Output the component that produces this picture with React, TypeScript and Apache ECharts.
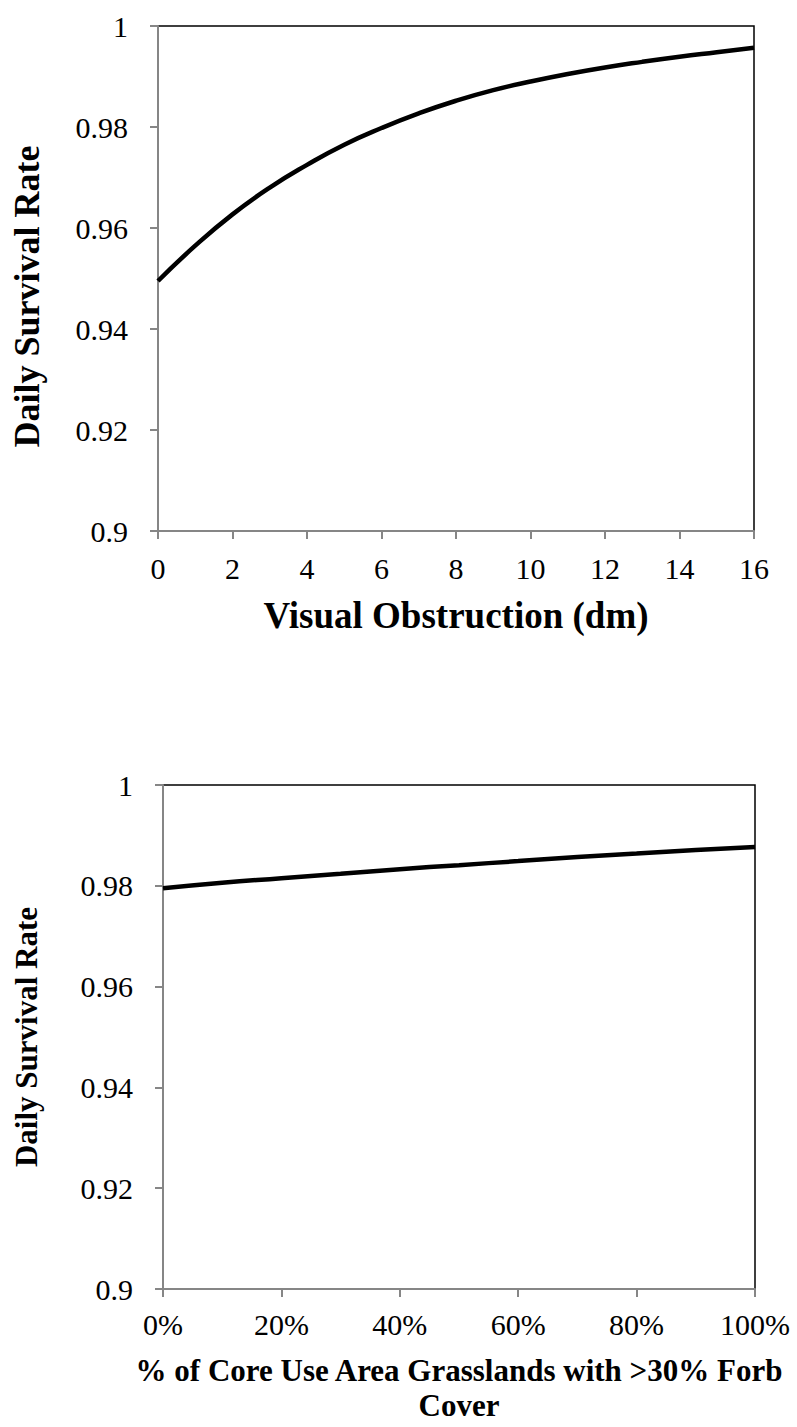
import React, { useEffect, useRef } from "react";
import * as echarts from "echarts";

// Top panel: visual obstruction (dm) vs daily survival rate
const obstructionX = [0, 1, 2, 3, 4, 5, 6, 7, 8, 9, 10, 11, 12, 13, 14, 15, 16];
const obstructionDSR = [
  0.9495, 0.9565, 0.9627, 0.968, 0.9725, 0.9765, 0.9798, 0.9827, 0.9852,
  0.9873, 0.989, 0.9905, 0.9918, 0.9929, 0.9939, 0.9948, 0.9957,
];

// Bottom panel: share of core use area grasslands with >30% forb cover
const forbX = [0, 0.1, 0.2, 0.3, 0.4, 0.5, 0.6, 0.7, 0.8, 0.9, 1.0];
const forbDSR = [
  0.9795, 0.9806, 0.9815, 0.9824, 0.9833, 0.9841, 0.9849, 0.9857, 0.9864,
  0.9871, 0.9877,
];

const yTitle = "Daily Survival Rate";
const xTitleTop = "Visual Obstruction (dm)";
const xTitleBottom = "% of Core Use Area Grasslands with >30% Forb\nCover";

const FONT = "'Liberation Serif', 'Times New Roman', 'DejaVu Serif', serif";
const GRAY = "#868686";

export default function App() {
  const ref = useRef<HTMLDivElement>(null);

  useEffect(() => {
    if (!ref.current) return;
    const chart = echarts.init(ref.current, undefined, { renderer: "svg" });

    const tickLabel = {
      color: "#000",
      fontFamily: FONT,
      fontSize: 30,
    };
    const nameStyle = (size: number) => ({
      color: "#000",
      fontFamily: FONT,
      fontSize: size,
      fontWeight: "bold" as const,
    });
    const axisCommon = {
      axisLine: { show: true, lineStyle: { color: GRAY, width: 2 } },
      axisTick: { show: true, length: 8, lineStyle: { color: GRAY, width: 2 } },
      splitLine: { show: false },
    };

    const yAxisBase = (gridIndex: number, gap: number, size: number, shift: number) => ({
      type: "value" as const,
      gridIndex,
      min: 0.9,
      max: 1,
      interval: 0.02,
      name: yTitle,
      nameLocation: "middle" as const,
      nameGap: gap,
      nameRotate: 90,
      nameTextStyle: { ...nameStyle(size), padding: [0, shift, 0, 0] },
      ...axisCommon,
      axisLabel: {
        ...tickLabel,
        margin: 30,
        showMinLabel: true,
        showMaxLabel: true,
        formatter: (v: number) => String(+v.toFixed(2)),
      },
    });

    chart.setOption({
      animation: false,
      backgroundColor: "#fff",
      textStyle: { fontFamily: FONT },
      grid: [
        {
          left: 158,
          top: 26,
          width: 596,
          height: 505,
          show: true,
          borderColor: "#000",
          borderWidth: 1.5,
          backgroundColor: "transparent",
        },
        {
          left: 163,
          top: 785,
          width: 592,
          height: 504,
          show: true,
          borderColor: "#000",
          borderWidth: 1.5,
          backgroundColor: "transparent",
        },
      ],
      xAxis: [
        {
          type: "value",
          gridIndex: 0,
          min: 0,
          max: 16,
          interval: 2,
          name: xTitleTop,
          nameLocation: "middle",
          nameGap: 66,
          nameTextStyle: nameStyle(37),
          ...axisCommon,
          axisLabel: { ...tickLabel, margin: 22, showMinLabel: true, showMaxLabel: true },
        },
        {
          type: "value",
          gridIndex: 1,
          min: 0,
          max: 1,
          interval: 0.2,
          name: xTitleBottom,
          nameLocation: "middle",
          nameGap: 64,
          nameTextStyle: { ...nameStyle(31), lineHeight: 35, verticalAlign: "top" },
          ...axisCommon,
          axisLabel: {
            ...tickLabel,
            margin: 20,
            showMinLabel: true,
            showMaxLabel: true,
            formatter: (v: number) => Math.round(v * 100) + "%",
          },
        },
      ],
      yAxis: [yAxisBase(0, 113, 36, 36), yAxisBase(1, 121, 31, 0)],
      series: [
        {
          type: "line",
          xAxisIndex: 0,
          yAxisIndex: 0,
          data: obstructionX.map((x, i) => [x, obstructionDSR[i]]),
          smooth: true,
          showSymbol: false,
          lineStyle: { color: "#000", width: 4.5 },
        },
        {
          type: "line",
          xAxisIndex: 1,
          yAxisIndex: 1,
          data: forbX.map((x, i) => [x, forbDSR[i]]),
          smooth: true,
          showSymbol: false,
          lineStyle: { color: "#000", width: 4.5 },
        },
      ],
    });

    return () => chart.dispose();
  }, []);

  return (
    <div
      ref={ref}
      style={{ position: "absolute", left: 0, top: 0, width: 797, height: 1427 }}
    />
  );
}
